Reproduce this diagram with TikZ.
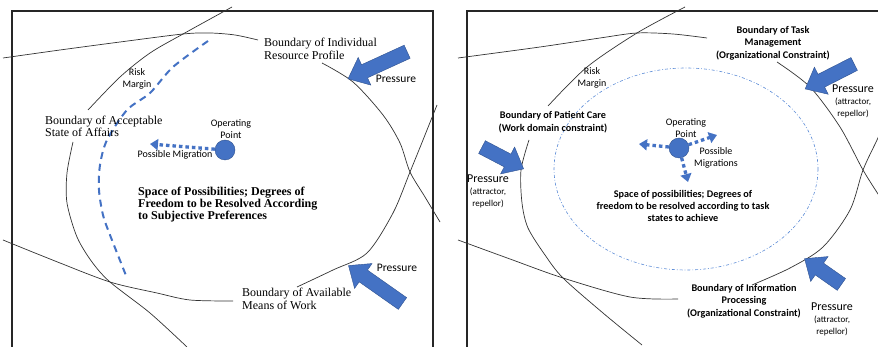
\documentclass[tikz,border=0pt]{standalone}
\usepackage{fontspec}
\setmainfont{Liberation Serif}
\newfontfamily\carl{Carlito}
\usetikzlibrary{shapes.arrows,arrows.meta}
\definecolor{myblue}{HTML}{4472C4}
\definecolor{edgeblue}{HTML}{2F528F}
\definecolor{lightblue}{HTML}{5B8BD6}
\begin{document}
\begin{tikzpicture}[x=1pt,y=-1pt,
  bound/.style={line width=0.7pt, black!80},
  frame/.style={line width=1.2pt, black!85},
  serlab/.style={font=\fontsize{12}{12.5}\selectfont, inner sep=0pt, align=left, anchor=west},
  serbold/.style={font=\bfseries\fontsize{12}{12}\selectfont, inner sep=0pt, align=left, anchor=west},
  sanlab/.style={font=\carl\fontsize{10}{12}\selectfont, inner sep=0pt, align=center},
  boldlab/.style={font=\carl\bfseries\fontsize{10.2}{12.5}\selectfont, inner sep=0pt, align=center},
  presslab/.style={font=\carl\fontsize{9}{12}\selectfont, inner sep=0pt, align=center},
  press/.style={single arrow, fill=myblue, draw=edgeblue, line width=0.4pt,
    inner xsep=0pt, inner ysep=7pt, single arrow head extend=8pt,
    single arrow tip angle=80, minimum height=#1},
  risk/.style={draw=myblue, line width=2pt, dash pattern=on 7pt off 5pt},
  migr/.style={draw=myblue, line width=3.3pt, dash pattern=on 3.5pt off 3pt,
    -{Triangle[length=8pt,width=11pt]}},
  opdot/.style={circle, fill=myblue, draw=edgeblue, line width=0.4pt, minimum size=20pt, inner sep=0pt},
  dashdot/.style={draw=lightblue, line width=0.6pt, dash pattern=on 3pt off 2pt on 0.8pt off 2pt}
]
\useasboundingbox (0,0) rectangle (878,347);
\clip (0,0) rectangle (878,347);

% ---------------- Left panel ----------------
\draw[frame] (12,360) -- (12,11) -- (433,11) -- (433,360);

% Boundary of Individual Resource Profile
\draw[bound] plot[smooth] coordinates {(3,58) (60,50) (120,42) (183,34) (210,33) (235,35) (258,40)};
\draw[bound] plot[smooth] coordinates {(322,63) (353,82) (383,115) (400,143) (410,172) (425,197) (440,222)};
% Boundary of Available Means of Work
\draw[bound] plot[smooth] coordinates {(3,240) (55,261) (110,282) (157,293) (190,300) (233,301)};
\draw[bound] plot[smooth] coordinates {(297,287) (333,270) (367,253) (393,213) (410,172) (423,140) (437,105)};
% Boundary of Acceptable State of Affairs
\draw[bound] plot[smooth] coordinates {(232,7) (183,34) (150,53) (120,77) (88,110)};
\draw[bound] plot[smooth] coordinates {(73,142) (67,173) (67,203) (77,237) (92,262) (110,282) (150,313) (187,347)};
% Risk margin
\draw[risk] plot[smooth] coordinates {(208,41) (173,67) (150,93) (127,110) (107,140) (100,165) (99,190) (103,215) (110,235) (127,278)};

\node[serlab] (lirp) at (264,49) {Boundary of Individual\\Resource Profile};
\node[serlab] (lasa) at (45,126.5) {Boundary of Acceptable\\State of Affairs};
\node[serlab] (lamw) at (242,299) {Boundary of Available\\Means of Work};
\node[serbold] (lspace) at (138,205) {Space of Possibilities; Degrees of\\Freedom to be Resolved According\\to Subjective Preferences};
\node[sanlab] (lrisk) at (137,79) {Risk\\Margin};
\node[sanlab] (lop) at (231,129) {Operating\\Point};
\node[sanlab] (lpm) at (175,155) {Possible Migration};
\node[opdot] (ldot) at (225,150) {};
\coordinate (ltip) at (150,144);
\draw[migr] (ldot) -- (ltip);

\node[press=65, rotate=204.6] (lpa1) at (381.5,63.5) {};
\node[press=66, rotate=144.9] (lpa2) at (379,287) {};
\node[sanlab, font=\carl\fontsize{11.5}{12}\selectfont] (lpt1) at (396,79) {Pressure};
\node[sanlab, font=\carl\fontsize{11.5}{12}\selectfont] (lpt2) at (397,268) {Pressure};

% ---------------- Right panel ----------------
\draw[frame] (467,360) -- (467,11) -- (890,11);

% Boundary of Task Management
\draw[bound] plot[smooth] coordinates {(458,58) (540,47) (600,38) (637,33) (673,34) (707,38)};
\draw[bound] plot[smooth] coordinates {(777,62) (810,87) (840,127) (863,170) (880,197)};
% Boundary of Patient Care
\draw[bound] plot[smooth] coordinates {(685,7) (637,33) (587,67) (548,106)};
\draw[bound] plot[smooth] coordinates {(529,140) (521,170) (522,203) (528,228) (545,255) (563,278) (603,313) (642,345)};
% Boundary of Information Processing
\draw[bound] plot[smooth] coordinates {(458,240) (510,259) (563,278) (630,297) (678,299)};
\draw[bound] plot[smooth] coordinates {(752,285) (790,268) (823,247) (850,210) (863,170) (877,140) (882,128)};
% risk margin ellipse
\draw[dashdot] (686,169) ellipse [x radius=132, y radius=101];

\node[boldlab] (rtm) at (773,43) {Boundary of Task\\Management\\(Organizational Constraint)};
\node[boldlab] (rpc) at (553,122) {Boundary of Patient Care\\(Work domain constraint)};
\node[boldlab] (rip) at (744,301) {Boundary of Information\\Processing\\(Organizational Constraint)};
\node[boldlab, font=\carl\bfseries\fontsize{10.2}{12}\selectfont] (rspace) at (683,206) {Space of possibilities; Degrees of\\freedom to be resolved according to task\\states to achieve};
\node[sanlab] (rrisk) at (592,78) {Risk\\Margin};
\node[sanlab] (rop) at (686,128) {Operating\\Point};
\node[sanlab] (rpm) at (716,158) {Possible\\Migrations};
\node[opdot] (rdot) at (679,148) {};
\coordinate (rtipa) at (639,144);
\coordinate (rtipb) at (717,135);
\coordinate (rtipc) at (688,182);
\draw[migr] (rdot) -- (rtipa);
\draw[migr] (rdot) -- (rtipb);
\draw[migr] (rdot) -- (rtipc);

\node[press=55, rotate=207] (rpa1) at (833.5,74.5) {};
\node[press=47, rotate=-27.6] (rpa2) at (499,156) {};
\node[press=45, rotate=145] (rpa3) at (826.5,274) {};
\node[presslab] (rpt1) at (853,101) {{\fontsize{12}{12}\selectfont Pressure}\\(attractor,\\repellor)};
\node[presslab] (rpt2) at (488,191) {{\fontsize{12}{12}\selectfont Pressure}\\(attractor,\\repellor)};
\node[presslab] (rpt3) at (832,319) {{\fontsize{12}{12}\selectfont Pressure}\\(attractor,\\repellor)};
\end{tikzpicture}
\end{document}
